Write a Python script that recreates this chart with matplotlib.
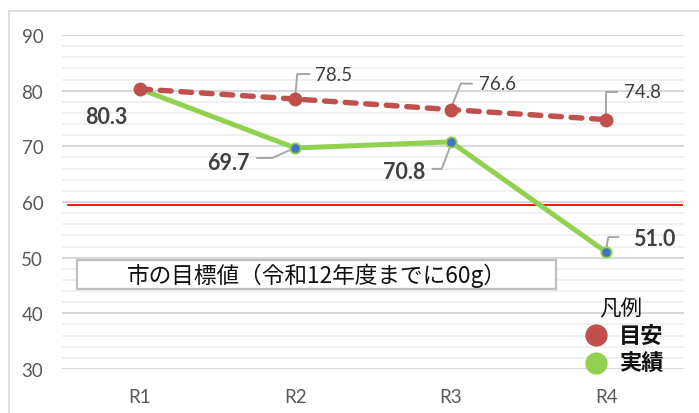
import matplotlib
matplotlib.use("Agg")
import matplotlib.pyplot as plt
import matplotlib.transforms as mtransforms
from matplotlib.lines import Line2D
from matplotlib.patches import Rectangle

# ---- data ----
categories = ["R1", "R2", "R3", "R4"]
target = [80.3, 78.5, 76.6, 74.8]      # 目安
actual = [80.3, 69.7, 70.8, 51.0]      # 実績
goal_value = 60                         # 市の目標値
y_ticks = [30, 40, 50, 60, 70, 80, 90]
box_text = "市の目標値（令和12年度までに60g）"
legend_title = "凡例"
legend_names = ["目安", "実績"]

# ---- style ----
W, H = 699, 414
RED = "#c0504d"
GREEN = "#92d050"
BLUE = "#4472c4"
LABEL_GRAY = "#404040"
LEADER_GRAY = "#a6a6a6"
NUM_FONT = ["Lato", "DejaVu Sans"]
JP_FONT = ["Noto Sans CJK JP", "DejaVu Sans"]

fig = plt.figure(figsize=(W / 100, H / 100), dpi=100)
fig.patch.set_facecolor("white")


def fpx(x, y):
    """image pixel (y down) -> figure fraction"""
    return x / W, 1 - y / H


# outer chart frame
fig.add_artist(Line2D([9 / W, 9 / W], [1 - 12 / H, 0], transform=fig.transFigure,
                      color="#d9d9d9", lw=1.2))
fig.add_artist(Line2D([9 / W, 1], [1 - 12 / H, 1 - 12 / H], transform=fig.transFigure,
                      color="#d9d9d9", lw=1.2))

ax = fig.add_axes([62 / W, 1 - 370 / H, 622 / W, 334 / H])
ax.set_xlim(0, len(categories))
ax.set_ylim(30, 90)
for s in ax.spines.values():
    s.set_visible(False)

xs = [i + 0.5 for i in range(len(categories))]

# grid: minor every 2, major every 10
for v in range(30, 91, 2):
    major = v % 10 == 0
    ax.axhline(v, color="#d9d9d9" if major else "#efefef",
               lw=1.5 if major else 1.3, zorder=0)

ax.set_yticks(y_ticks)
ax.set_yticklabels([str(t) for t in y_ticks])
ax.set_xticks(xs)
ax.set_xticklabels(categories)
ax.tick_params(axis="both", length=0, colors="#595959", labelsize=13.5)
ax.tick_params(axis="y", pad=13.5)
ax.tick_params(axis="x", pad=13.5)
for lab in ax.get_xticklabels() + ax.get_yticklabels():
    lab.set_fontfamily(NUM_FONT)

# goal reference line
goal_trans = mtransforms.offset_copy(ax.transData, fig=fig, y=-3, units="dots")
ax.plot([0.04, 3.99], [goal_value, goal_value], color="#ff0000", lw=1.3,
        transform=goal_trans, zorder=1)

# actual series
ax.plot(xs, actual, color=GREEN, lw=3.6, marker="o", markersize=7.5,
        markerfacecolor=BLUE, markeredgecolor=GREEN, markeredgewidth=1.3,
        solid_capstyle="round", zorder=3, clip_on=False)

# target series (dashed)
ax.plot(xs, target, color=RED, lw=3.9, linestyle=(0, (2.0, 1.8)),
        dash_capstyle="round", marker="o", markersize=9,
        markerfacecolor=RED, markeredgecolor=RED, zorder=4, clip_on=False)


def leader(x, y, pts):
    t = mtransforms.IdentityTransform() + mtransforms.ScaledTranslation(x, y, ax.transData)
    ax.add_line(Line2D([p[0] for p in pts], [p[1] for p in pts], transform=t,
                       color=LEADER_GRAY, lw=1.4, zorder=2, clip_on=False))


def label(x, y, dx, dy, bold, size):
    ax.annotate(f"{y:.1f}", xy=(x, y), xytext=(dx, dy), textcoords="offset pixels",
                ha="center", va="center", fontsize=size, color=LABEL_GRAY,
                fontweight="bold" if bold else "normal", fontfamily=NUM_FONT,
                zorder=6, annotation_clip=False)


# target labels (regular) with leaders
t_offsets = [(-33.5, -27.5), (38, 24.5), (47, 26), (36, 28.5)]
t_leaders = [None,
             [(0, 3), (2, 25), (14, 25)],
             [(1, 3), (10, 26), (21, 26)],
             [(0, 3), (0, 28), (11, 28)]]
for i, (x, y) in enumerate(zip(xs, target)):
    if i == 0:
        # shared first point, shown as the bold value
        label(x, y, *t_offsets[i], bold=True, size=15.5)
        continue
    leader(x, y, t_leaders[i])
    label(x, y, *t_offsets[i], bold=False, size=13.5)

# actual labels (bold) with leaders
a_offsets = [None, (-67, -14), (-47, -29.5), (48, 14)]
a_leaders = [None,
             [(-3, -1), (-23, -10), (-38, -10)],
             [(0, -3), (-9, -27), (-18, -27)],
             [(0, 3), (2, 15), (12, 15)]]
for i, (x, y) in enumerate(zip(xs, actual)):
    if i == 0:
        continue
    leader(x, y, a_leaders[i])
    label(x, y, *a_offsets[i], bold=True, size=15.5)

# goal text box
x0, y0 = fpx(77, 290)
x1, y1 = fpx(556, 261)
fig.add_artist(Rectangle((x0, y0), x1 - x0, y1 - y0, transform=fig.transFigure,
                         facecolor="white", edgecolor="#bfbfbf", lw=1.6, zorder=5))
fig.text(*fpx(317, 275.5), box_text, ha="center", va="center", fontsize=16.3,
         color="#111111", fontfamily=JP_FONT, zorder=6)

# legend
fig.text(*fpx(621, 309), legend_title, ha="center", va="center", fontsize=15.5,
         color="#111111", fontfamily=JP_FONT, zorder=6)
for name, col, yy in zip(legend_names, [RED, GREEN], [336, 364]):
    cx, cy = fpx(596, yy)
    fig.add_artist(Line2D([cx], [cy], transform=fig.transFigure, marker="o",
                          markersize=15, color=col, linestyle="none", zorder=6))
    fig.text(*fpx(641, yy), name, ha="center", va="center", fontsize=16,
             fontweight="bold", color="#111111", fontfamily=JP_FONT, zorder=6)

fig.savefig("out.png", dpi=100)
